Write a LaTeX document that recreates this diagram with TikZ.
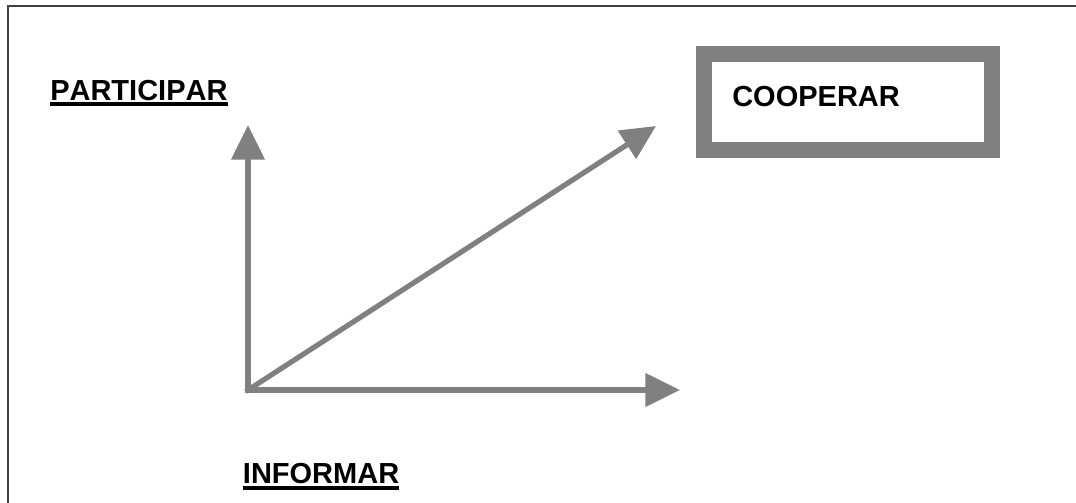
\documentclass[tikz,border=0pt]{standalone}
\usepackage{fontspec}
\setmainfont{Liberation Sans}[Kerning=Off]
\usetikzlibrary{arrows.meta}
\definecolor{axisgray}{HTML}{808080}
\definecolor{framegray}{HTML}{404040}

\begin{document}
\begin{tikzpicture}[x=0.75pt, y=-0.75pt,
  word/.style={inner sep=0pt, anchor=base west, font=\fontsize{21.75}{26}\selectfont\bfseries},
  underbar/.style={line width=3pt},
  axis/.style={axisgray, line width=3.9pt, line cap=rect, -{Triangle[length=26pt, width=24.5pt]}},
  coopbox/.style={draw=axisgray, line width=12pt, minimum width=216pt, minimum height=72pt, inner sep=0pt}]
  % Page size
  \useasboundingbox (0,0) rectangle (1076,503);

  % Frame (only the top and left edges show)
  \draw[framegray, line width=1.5pt] (7.7,503) -- (7.7,5.7) -- (1076,5.7);

  % Axes
  \coordinate (origin) at (248,390);
  \coordinate (uptip) at (248,125);
  \coordinate (righttip) at (680,390);
  \coordinate (diagtip) at (656,126);
  \draw[axis] (origin) -- (uptip);
  \draw[axis] (origin) -- (righttip);
  \draw[axis] (origin) -- (diagtip);

  % Labels
  \node[word] (participar) at (50,100.7) {PARTICIPAR};
  \draw[underbar] ([yshift=-2.5pt]participar.base west) -- ([yshift=-2.5pt]participar.base east);
  \node[word] (informar) at (242.7,483) {INFORMAR};
  \draw[underbar] ([yshift=-3.5pt]informar.base west) -- ([yshift=-3.5pt]informar.base east);

  % Box
  \node[coopbox] (coopbox) at (848,101.7) {};
  \node[word] (cooperar) at (732,107) {COOPERAR};
\end{tikzpicture}
\end{document}
